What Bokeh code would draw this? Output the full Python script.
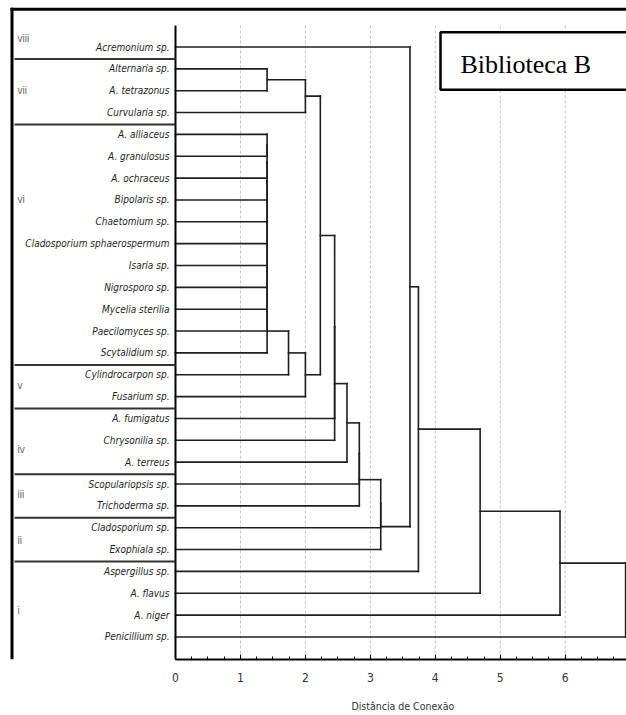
from bokeh.plotting import figure
from bokeh.models import ColumnDataSource, Range1d, FixedTicker, LinearAxis
from bokeh.core.properties import value
from bokeh.embed import file_html
from bokeh.resources import INLINE

# ---------------- data ----------------
leaf_names = [
    "Acremonium sp.", "Alternaria sp.", "A. tetrazonus", "Curvularia sp.",
    "A. alliaceus", "A. granulosus", "A. ochraceus", "Bipolaris sp.",
    "Chaetomium sp.", "Cladosporium sphaerospermum", "Isaria sp.",
    "Nigrosporo sp.", "Mycelia sterilia", "Paecilomyces sp.", "Scytalidium sp.",
    "Cylindrocarpon sp.", "Fusarium sp.", "A. fumigatus", "Chrysonilia sp.",
    "A. terreus", "Scopulariopsis sp.", "Trichoderma sp.", "Cladosporium sp.",
    "Exophiala sp.", "Aspergillus sp.", "A. flavus", "A. niger", "Penicillium sp.",
]
# merges: ids < 28 are leaves, id 28+k is the k-th merge
merge_left = [1, 28, 4, 30, 31, 32, 33, 34, 35, 36, 37, 38, 39, 40, 29, 42, 43, 44,
              45, 46, 47, 48, 0, 50, 51, 52, 53]
merge_right = [2, 3, 5, 6, 7, 8, 9, 10, 11, 12, 13, 14, 15, 16, 41, 17, 18, 19,
               20, 21, 22, 23, 49, 24, 25, 26, 27]
merge_height = [1.41, 2.00, 1.41, 1.41, 1.41, 1.41, 1.41, 1.41, 1.41, 1.41, 1.41,
                1.41, 1.74, 2.00, 2.23, 2.45, 2.45, 2.64, 2.83, 2.83, 3.16, 3.16,
                3.61, 3.74, 4.69, 5.92, 6.93]
group_names = ["viii", "vii", "vi", "v", "iv", "iii", "ii", "i"]
group_first_leaf = [0, 1, 4, 15, 17, 20, 22, 24]
x_ticks = [0, 1, 2, 3, 4, 5, 6]
axis_title = "Distância de Conexão"
legend_text = "Biblioteca B"

# ---------------- layout (page pixels) ----------------
W, H = 626, 715
AXIS_X0 = 175           # page x of distance 0
XS = 64.95              # px per distance unit
FRAME_B = 659           # page y of x-axis line
LEAF0_PX, LEAF_STEP = 46.5, 21.85

X_START = -AXIS_X0 / XS
X_END = (W - AXIS_X0) / XS
Y_TOP = -LEAF0_PX / LEAF_STEP
Y_BOT = (FRAME_B - LEAF0_PX) / LEAF_STEP


def px_x(px):
    return (px - AXIS_X0) / XS


def px_y(py):
    return (py - LEAF0_PX) / LEAF_STEP


group_label_y = [-0.4, 2.0, 7.0, 15.5, 18.4, 20.5, 22.6, 25.8]
TITLE_X = 3.5   # where the axis title is centred, in distance units

LABEL_FONT = "DejaVu Sans Condensed, Liberation Sans"
LINE = "#1e1e1e"

# ---------------- tree geometry ----------------
n = len(leaf_names)
pos = {i: float(i) for i in range(n)}
hgt = {i: 0.0 for i in range(n)}
x0, y0, x1, y1 = [], [], [], []
for k, (a, b, h) in enumerate(zip(merge_left, merge_right, merge_height)):
    for c in (a, b):
        x0.append(hgt[c]); y0.append(pos[c]); x1.append(h); y1.append(pos[c])
    x0.append(h); y0.append(pos[a]); x1.append(h); y1.append(pos[b])
    pos[n + k] = (pos[a] + pos[b]) / 2.0
    hgt[n + k] = h
tree_src = ColumnDataSource(dict(x0=x0, y0=y0, x1=x1, y1=y1))

p = figure(width=W, height=H, x_range=Range1d(X_START, X_END), y_range=Range1d(Y_BOT, Y_TOP),
           output_backend="svg", toolbar_location=None,
           min_border_left=0, min_border_right=0, min_border_top=0,
           min_border_bottom=H - FRAME_B,
           outline_line_color=None, background_fill_color="white",
           border_fill_color="white")
p.yaxis.visible = False
p.xgrid.visible = False
p.ygrid.visible = False

# dashed vertical grid lines (from the top of the plot area)
grid_top = px_y(25)
p.segment(x0=x_ticks[1:], y0=[grid_top] * 6, x1=x_ticks[1:], y1=[Y_BOT] * 6,
          line_color="#c4c4c4", line_dash="3 2", line_width=1)

# dendrogram
p.segment("x0", "y0", "x1", "y1", source=tree_src, line_color=LINE, line_width=1.6,
          line_cap="square")

# left (leaf) axis line
p.segment(x0=[0], y0=[grid_top], x1=[0], y1=[Y_BOT], line_color="black", line_width=2)

# leaf labels
p.text(x=[px_x(169)] * n, y=list(range(n)), text=leaf_names, text_align="right",
       text_baseline="middle", text_font=value(LABEL_FONT), text_font_style="italic",
       text_font_size="10px", text_color="#1e1e1e")

# group separators
sep_y = [f - 0.45 for f in group_first_leaf[1:]]
p.segment(x0=[px_x(14)] * len(sep_y), y0=sep_y, x1=[0] * len(sep_y), y1=sep_y,
          line_color="#333333", line_width=2)
# group labels
p.text(x=[px_x(17)] * len(group_names), y=group_label_y, text=group_names,
       text_align="left", text_baseline="middle", text_font=value("Liberation Sans"),
       text_font_size="10px", text_color="#666666")

# outer thick frame (top + left)
p.segment(x0=[px_x(10)], y0=[px_y(8.7)], x1=[X_END], y1=[px_y(8.7)],
          line_color="black", line_width=3)
p.segment(x0=[px_x(11.5)], y0=[px_y(7.3)], x1=[px_x(11.5)], y1=[Y_BOT],
          line_color="black", line_width=3)

# legend box
p.quad(left=[px_x(440)], right=[X_END + 1], top=[px_y(31.7)], bottom=[px_y(89.3)],
       fill_color="white", line_color="black", line_width=2.5)
p.text(x=[px_x(460)], y=[px_y(64)], text=[legend_text], text_align="left",
       text_baseline="middle", text_font=value("Liberation Serif"),
       text_font_size="26px", text_color="black")

# x axis
xa = p.xaxis[0]
xa.bounds = (0, X_END)
xa.ticker = FixedTicker(ticks=x_ticks, minor_ticks=[i * 0.25 for i in range(28)])
xa.axis_line_width = 2
xa.axis_line_color = "black"
xa.major_tick_in = 5
xa.major_tick_out = 0
xa.minor_tick_in = 3
xa.minor_tick_out = 0
xa.major_tick_line_color = "black"
xa.minor_tick_line_color = "black"
xa.major_label_standoff = 13
xa.major_label_text_font = LABEL_FONT
xa.major_label_text_font_size = "12px"
xa.major_label_text_color = "#333333"

# second (label-only) axis carrying the axis title, centred under the distance scale
ta = LinearAxis(ticker=FixedTicker(ticks=[TITLE_X]),
                major_label_overrides={TITLE_X: axis_title},
                axis_line_color=None, major_tick_line_color=None,
                minor_tick_line_color=None,
                major_tick_in=0, major_tick_out=0, minor_tick_in=0, minor_tick_out=0,
                major_label_standoff=15,
                major_label_text_font=LABEL_FONT, major_label_text_font_size="10.5px",
                major_label_text_color="#333333")
p.add_layout(ta, "below")

open("out.html", "w").write(file_html(p, INLINE))
